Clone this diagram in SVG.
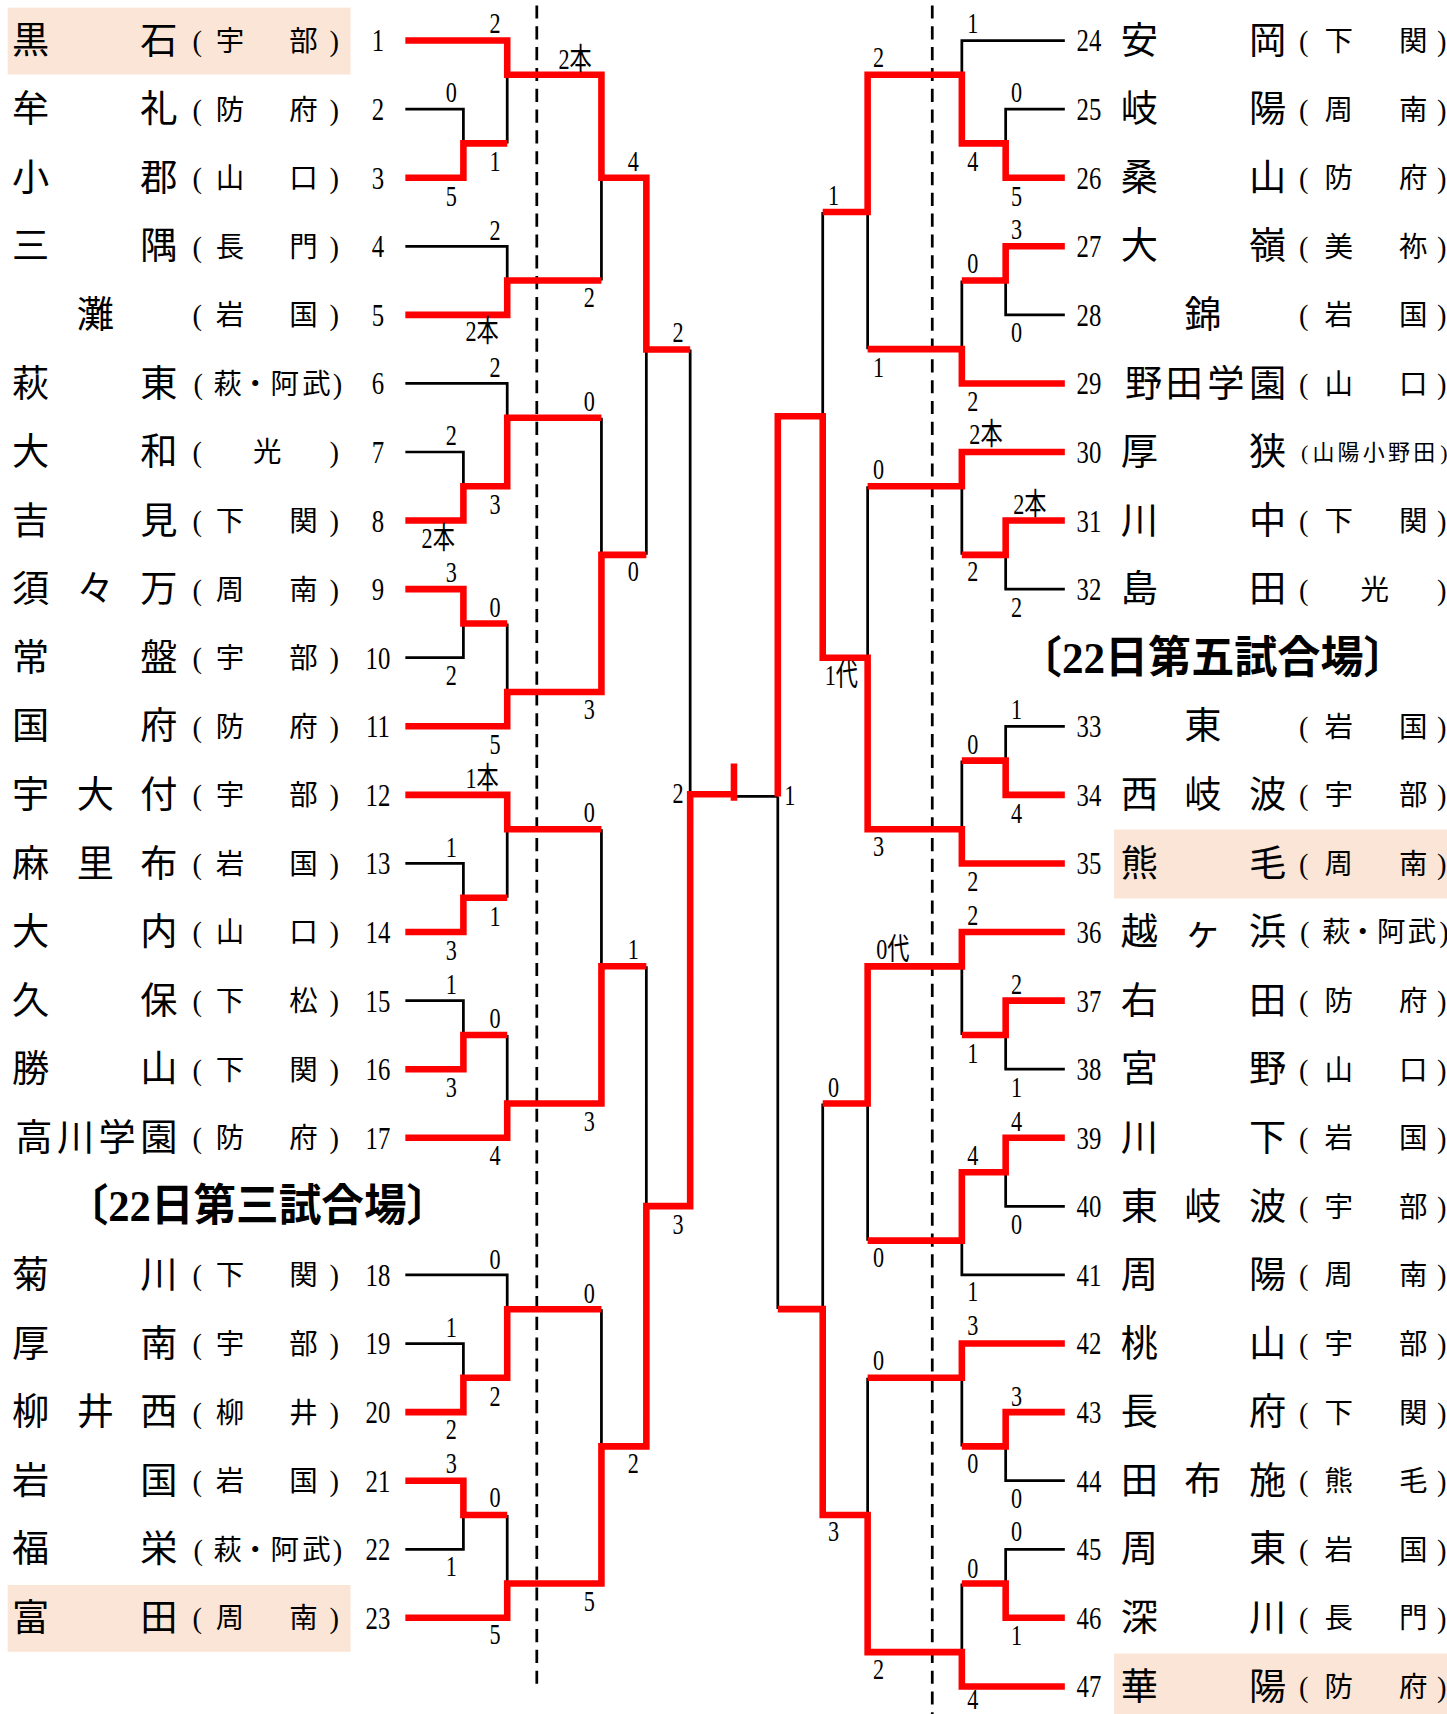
<svg xmlns="http://www.w3.org/2000/svg" width="1447" height="1714" viewBox="0 0 1447 1714">
<style>
text{font-family:"Liberation Serif","Noto Sans CJK JP",serif;fill:#000;text-anchor:middle}
.nm{font-size:34px}
.pf{font-size:26px}
.sm{font-size:20px}
.no{font-size:29px;transform:scaleX(.78);transform-box:fill-box;transform-origin:center}
.s{font-size:27px;transform:scaleX(.75);transform-box:fill-box;transform-origin:center}
.hd{font-size:40px;font-weight:bold}
.r{fill:none;stroke:#ff0000;stroke-width:6}
.k{fill:none;stroke:#000;stroke-width:2.5}
.d{stroke:#000;stroke-width:2.5;stroke-dasharray:12 7}
.bg{fill:#fbe5d6}
</style>
<rect width="1447" height="1714" fill="#fff"/>
<g transform="scale(1.0955)">
<g id="guides">
<line class="d" x1="490" y1="5" x2="490" y2="1540"/>
<line class="d" x1="851" y1="5" x2="851" y2="1570"/>
</g>
<g id="left-teams">
<g id="t1" transform="translate(0,37)"><rect class="bg" x="7" y="-30" width="313" height="61"/><text class="nm" x="28 145" y="12">黒石</text><text class="pf" x="180 210 277 305" y="9.5">(宇部)</text><text class="no" x="345" y="10">1</text></g>
<g id="t2" transform="translate(0,99.6)"><text class="nm" x="28 145" y="12">牟礼</text><text class="pf" x="180 210 277 305" y="9.5">(防府)</text><text class="no" x="345" y="10">2</text></g>
<g id="t3" transform="translate(0,162.2)"><text class="nm" x="28 145" y="12">小郡</text><text class="pf" x="180 210 277 305" y="9.5">(山口)</text><text class="no" x="345" y="10">3</text></g>
<g id="t4" transform="translate(0,224.8)"><text class="nm" x="28 145" y="12">三隅</text><text class="pf" x="180 210 277 305" y="9.5">(長門)</text><text class="no" x="345" y="10">4</text></g>
<g id="t5" transform="translate(0,287.4)"><text class="nm" x="87" y="12">灘</text><text class="pf" x="180 210 277 305" y="9.5">(岩国)</text><text class="no" x="345" y="10">5</text></g>
<g id="t6" transform="translate(0,350)"><text class="nm" x="28 145" y="12">萩東</text><text class="pf" x="181 208 233 260 289 308" y="9.5">(萩・阿武)</text><text class="no" x="345" y="10">6</text></g>
<g id="t7" transform="translate(0,412.6)"><text class="nm" x="28 145" y="12">大和</text><text class="pf" x="180 244 305" y="9.5">(光)</text><text class="no" x="345" y="10">7</text></g>
<g id="t8" transform="translate(0,475.2)"><text class="nm" x="28 145" y="12">吉見</text><text class="pf" x="180 210 277 305" y="9.5">(下関)</text><text class="no" x="345" y="10">8</text></g>
<g id="t9" transform="translate(0,537.8)"><text class="nm" x="28 87 145" y="12">須々万</text><text class="pf" x="180 210 277 305" y="9.5">(周南)</text><text class="no" x="345" y="10">9</text></g>
<g id="t10" transform="translate(0,600.4)"><text class="nm" x="28 145" y="12">常盤</text><text class="pf" x="180 210 277 305" y="9.5">(宇部)</text><text class="no" x="345" y="10">10</text></g>
<g id="t11" transform="translate(0,663)"><text class="nm" x="28 145" y="12">国府</text><text class="pf" x="180 210 277 305" y="9.5">(防府)</text><text class="no" x="345" y="10">11</text></g>
<g id="t12" transform="translate(0,725.6)"><text class="nm" x="28 87 145" y="12">宇大付</text><text class="pf" x="180 210 277 305" y="9.5">(宇部)</text><text class="no" x="345" y="10">12</text></g>
<g id="t13" transform="translate(0,788.2)"><text class="nm" x="28 87 145" y="12">麻里布</text><text class="pf" x="180 210 277 305" y="9.5">(岩国)</text><text class="no" x="345" y="10">13</text></g>
<g id="t14" transform="translate(0,850.8)"><text class="nm" x="28 145" y="12">大内</text><text class="pf" x="180 210 277 305" y="9.5">(山口)</text><text class="no" x="345" y="10">14</text></g>
<g id="t15" transform="translate(0,913.4)"><text class="nm" x="28 145" y="12">久保</text><text class="pf" x="180 210 277 305" y="9.5">(下松)</text><text class="no" x="345" y="10">15</text></g>
<g id="t16" transform="translate(0,976)"><text class="nm" x="28 145" y="12">勝山</text><text class="pf" x="180 210 277 305" y="9.5">(下関)</text><text class="no" x="345" y="10">16</text></g>
<g id="t17" transform="translate(0,1038.6)"><text class="nm" x="31 69 107 145" y="12">高川学園</text><text class="pf" x="180 210 277 305" y="9.5">(防府)</text><text class="no" x="345" y="10">17</text></g>
<g id="t18" transform="translate(0,1163.8)"><text class="nm" x="28 145" y="12">菊川</text><text class="pf" x="180 210 277 305" y="9.5">(下関)</text><text class="no" x="345" y="10">18</text></g>
<g id="t19" transform="translate(0,1226.4)"><text class="nm" x="28 145" y="12">厚南</text><text class="pf" x="180 210 277 305" y="9.5">(宇部)</text><text class="no" x="345" y="10">19</text></g>
<g id="t20" transform="translate(0,1289)"><text class="nm" x="28 87 145" y="12">柳井西</text><text class="pf" x="180 210 277 305" y="9.5">(柳井)</text><text class="no" x="345" y="10">20</text></g>
<g id="t21" transform="translate(0,1351.6)"><text class="nm" x="28 145" y="12">岩国</text><text class="pf" x="180 210 277 305" y="9.5">(岩国)</text><text class="no" x="345" y="10">21</text></g>
<g id="t22" transform="translate(0,1414.2)"><text class="nm" x="28 145" y="12">福栄</text><text class="pf" x="181 208 233 260 289 308" y="9.5">(萩・阿武)</text><text class="no" x="345" y="10">22</text></g>
<g id="t23" transform="translate(0,1476.8)"><rect class="bg" x="7" y="-30" width="313" height="61"/><text class="nm" x="28 145" y="12">富田</text><text class="pf" x="180 210 277 305" y="9.5">(周南)</text><text class="no" x="345" y="10">23</text></g>
</g>
<g id="right-teams">
<g id="t24" transform="translate(0,37)"><text class="no" x="994" y="10">24</text><text class="nm" x="1040 1157" y="12">安岡</text><text class="pf" x="1190 1222 1290 1316" y="9.5">(下関)</text></g>
<g id="t25" transform="translate(0,99.6)"><text class="no" x="994" y="10">25</text><text class="nm" x="1040 1157" y="12">岐陽</text><text class="pf" x="1190 1222 1290 1316" y="9.5">(周南)</text></g>
<g id="t26" transform="translate(0,162.2)"><text class="no" x="994" y="10">26</text><text class="nm" x="1040 1157" y="12">桑山</text><text class="pf" x="1190 1222 1290 1316" y="9.5">(防府)</text></g>
<g id="t27" transform="translate(0,224.8)"><text class="no" x="994" y="10">27</text><text class="nm" x="1040 1157" y="12">大嶺</text><text class="pf" x="1190 1222 1290 1316" y="9.5">(美祢)</text></g>
<g id="t28" transform="translate(0,287.4)"><text class="no" x="994" y="10">28</text><text class="nm" x="1098" y="12">錦</text><text class="pf" x="1190 1222 1290 1316" y="9.5">(岩国)</text></g>
<g id="t29" transform="translate(0,350)"><text class="no" x="994" y="10">29</text><text class="nm" x="1044 1081 1119 1157" y="12">野田学園</text><text class="pf" x="1190 1222 1290 1316" y="9.5">(山口)</text></g>
<g id="t30" transform="translate(0,412.6)"><text class="no" x="994" y="10">30</text><text class="nm" x="1040 1157" y="12">厚狭</text><text class="sm" x="1191 1208 1231 1254 1277 1300 1318" y="7.5">(山陽小野田)</text></g>
<g id="t31" transform="translate(0,475.2)"><text class="no" x="994" y="10">31</text><text class="nm" x="1040 1157" y="12">川中</text><text class="pf" x="1190 1222 1290 1316" y="9.5">(下関)</text></g>
<g id="t32" transform="translate(0,537.8)"><text class="no" x="994" y="10">32</text><text class="nm" x="1040 1157" y="12">島田</text><text class="pf" x="1190 1255 1316" y="9.5">(光)</text></g>
<g id="t33" transform="translate(0,663)"><text class="no" x="994" y="10">33</text><text class="nm" x="1098" y="12">東</text><text class="pf" x="1190 1222 1290 1316" y="9.5">(岩国)</text></g>
<g id="t34" transform="translate(0,725.6)"><text class="no" x="994" y="10">34</text><text class="nm" x="1040 1098 1157" y="12">西岐波</text><text class="pf" x="1190 1222 1290 1316" y="9.5">(宇部)</text></g>
<g id="t35" transform="translate(0,788.2)"><rect class="bg" x="1017" y="-31" width="310" height="63"/><text class="no" x="994" y="10">35</text><text class="nm" x="1040 1157" y="12">熊毛</text><text class="pf" x="1190 1222 1290 1316" y="9.5">(周南)</text></g>
<g id="t36" transform="translate(0,850.8)"><text class="no" x="994" y="10">36</text><text class="nm" x="1040 1098 1157" y="12">越ヶ浜</text><text class="pf" x="1191 1220 1244 1270 1298 1318" y="9.5">(萩・阿武)</text></g>
<g id="t37" transform="translate(0,913.4)"><text class="no" x="994" y="10">37</text><text class="nm" x="1040 1157" y="12">右田</text><text class="pf" x="1190 1222 1290 1316" y="9.5">(防府)</text></g>
<g id="t38" transform="translate(0,976)"><text class="no" x="994" y="10">38</text><text class="nm" x="1040 1157" y="12">宮野</text><text class="pf" x="1190 1222 1290 1316" y="9.5">(山口)</text></g>
<g id="t39" transform="translate(0,1038.6)"><text class="no" x="994" y="10">39</text><text class="nm" x="1040 1157" y="12">川下</text><text class="pf" x="1190 1222 1290 1316" y="9.5">(岩国)</text></g>
<g id="t40" transform="translate(0,1101.2)"><text class="no" x="994" y="10">40</text><text class="nm" x="1040 1098 1157" y="12">東岐波</text><text class="pf" x="1190 1222 1290 1316" y="9.5">(宇部)</text></g>
<g id="t41" transform="translate(0,1163.8)"><text class="no" x="994" y="10">41</text><text class="nm" x="1040 1157" y="12">周陽</text><text class="pf" x="1190 1222 1290 1316" y="9.5">(周南)</text></g>
<g id="t42" transform="translate(0,1226.4)"><text class="no" x="994" y="10">42</text><text class="nm" x="1040 1157" y="12">桃山</text><text class="pf" x="1190 1222 1290 1316" y="9.5">(宇部)</text></g>
<g id="t43" transform="translate(0,1289)"><text class="no" x="994" y="10">43</text><text class="nm" x="1040 1157" y="12">長府</text><text class="pf" x="1190 1222 1290 1316" y="9.5">(下関)</text></g>
<g id="t44" transform="translate(0,1351.6)"><text class="no" x="994" y="10">44</text><text class="nm" x="1040 1098 1157" y="12">田布施</text><text class="pf" x="1190 1222 1290 1316" y="9.5">(熊毛)</text></g>
<g id="t45" transform="translate(0,1414.2)"><text class="no" x="994" y="10">45</text><text class="nm" x="1040 1157" y="12">周東</text><text class="pf" x="1190 1222 1290 1316" y="9.5">(岩国)</text></g>
<g id="t46" transform="translate(0,1476.8)"><text class="no" x="994" y="10">46</text><text class="nm" x="1040 1157" y="12">深川</text><text class="pf" x="1190 1222 1290 1316" y="9.5">(長門)</text></g>
<g id="t47" transform="translate(0,1539.4)"><rect class="bg" x="1017" y="-30" width="310" height="62"/><text class="no" x="994" y="10">47</text><text class="nm" x="1040 1157" y="12">華陽</text><text class="pf" x="1190 1222 1290 1316" y="9.5">(防府)</text></g>
</g>
<g id="headers">
<text class="hd" x="235" y="1115" textLength="350" lengthAdjust="spacingAndGlyphs">〔22日第三試合場〕</text>
<text class="hd" x="1107" y="614" textLength="354" lengthAdjust="spacingAndGlyphs">〔22日第五試合場〕</text>
</g>
<g id="connectors">
<path class="k" d="M370,99.6H423V130.9M463,130.9V68.3M370,224.8H463V256.1M549,256.1V162.2
M370,350H463V381.3M370,412.6H423V443.9M370,600.4H423V569.1M463,569.1V631.7M549,381.3V506.5M590,319V506.5M630,319V725
M370,788.2H423V819.5M463,819.5V757M370,913.4H423V944.7M463,944.7V1007.3M549,757V882M590,882V1101
M370,1163.8H463V1195.1M370,1226.4H423V1257.7M370,1414.2H423V1382.9M463,1382.9V1445.5M549,1195.1V1320.3
M670,727H710
M972,37H878V68.3M972,99.6H918V130.9M972,287.4H918V256.1M878,256.1V318.7M792,318.7V193.5M751,193.5V380
M972,537.8H918V506.5M878,506.5V443.9M972,663H918V694.3M878,694.3V756.9M792,443.9V600.4
M972,976H918V944.7M878,944.7V882.1M972,1101.2H918V1070M972,1163.8H878V1132.5M792,1132.5V1007.3M751,1007.3V1195M710,727V1195
M972,1351.6H918V1320.3M878,1320.3V1257.7M972,1414.2H918V1445.5M878,1445.5V1508.1M792,1257.7V1382.9"/>
<path class="r" d="M370,37H463V68.3H549V162.2H590V319H630
M370,162.2H423V130.9H463
M370,287.4H463V256.1H549
M370,475.2H423V443.9H463V381.3H549
M370,537.8H423V569.1H463
M370,663H463V631.7H549V506.5H590
M370,725.6H463V757H549
M370,850.8H423V819.5H463
M370,976H423V944.7H463
M370,1038.6H463V1007.3H549V882H590
M370,1289H423V1257.7H463V1195.1H549
M370,1351.6H423V1382.9H463
M370,1476.8H463V1445.5H549V1320.3H590V1101H630V725H670
M670,697V731
M972,162.2H918V130.9H878V68.3H792V193.5H751
M972,224.8H918V256.1H878
M972,350H878V318.7H792
M972,412.6H878V443.9H792
M972,475.2H918V506.5H878
M972,725.6H918V694.3H878
M972,788.2H878V756.9H792V600.4H751V380H710V727
M972,850.8H878V882.1H792V1007.3H751
M972,913.4H918V944.7H878
M972,1038.6H918V1070H878V1132.5H792
M972,1226.4H878V1257.7H792
M972,1289H918V1320.3H878
M972,1476.8H918V1445.5H878
M972,1539.4H878V1508.1H792V1382.9H751V1195H710"/>
</g>
<g id="scores">
<text class="s" x="452" y="30">2</text><text class="s" x="412" y="93">0</text><text class="s" x="452" y="156">1</text><text class="s" x="412" y="188">5</text><text class="s" x="525" y="63">2本</text><text class="s" x="452" y="219">2</text><text class="s" x="440" y="311">2本</text><text class="s" x="538" y="280">2</text><text class="s" x="578" y="156">4</text><text class="s" x="619" y="312">2</text>
<text class="s" x="452" y="344">2</text><text class="s" x="538" y="375">0</text><text class="s" x="412" y="406">2</text><text class="s" x="452" y="469">3</text><text class="s" x="400" y="500">2本</text><text class="s" x="412" y="531">3</text><text class="s" x="452" y="563">0</text><text class="s" x="578" y="530">0</text><text class="s" x="412" y="625">2</text><text class="s" x="538" y="656">3</text><text class="s" x="452" y="688">5</text>
<text class="s" x="440" y="719">1本</text><text class="s" x="619" y="733">2</text><text class="s" x="538" y="750">0</text><text class="s" x="412" y="782">1</text><text class="s" x="452" y="845">1</text><text class="s" x="578" y="875">1</text><text class="s" x="412" y="876">3</text><text class="s" x="412" y="907">1</text><text class="s" x="452" y="938">0</text><text class="s" x="412" y="1001">3</text><text class="s" x="538" y="1032">3</text><text class="s" x="452" y="1063">4</text><text class="s" x="619" y="1126">3</text>
<text class="s" x="452" y="1158">0</text><text class="s" x="538" y="1189">0</text><text class="s" x="412" y="1220">1</text><text class="s" x="452" y="1283">2</text><text class="s" x="412" y="1314">2</text><text class="s" x="578" y="1345">2</text><text class="s" x="412" y="1345">3</text><text class="s" x="452" y="1376">0</text><text class="s" x="412" y="1439">1</text><text class="s" x="538" y="1471">5</text><text class="s" x="452" y="1501">5</text>
<text class="s" x="721" y="735">1</text>
<text class="s" x="888" y="30">1</text><text class="s" x="802" y="61">2</text><text class="s" x="928" y="93">0</text><text class="s" x="888" y="156">4</text><text class="s" x="761" y="187">1</text><text class="s" x="928" y="188">5</text><text class="s" x="928" y="218">3</text><text class="s" x="888" y="249">0</text><text class="s" x="928" y="312">0</text><text class="s" x="802" y="344">1</text><text class="s" x="888" y="375">2</text>
<text class="s" x="900" y="405">2本</text><text class="s" x="802" y="437">0</text><text class="s" x="940" y="469">2本</text><text class="s" x="888" y="530">2</text><text class="s" x="928" y="563">2</text><text class="s" x="768" y="625">1代</text><text class="s" x="928" y="656">1</text><text class="s" x="888" y="688">0</text><text class="s" x="928" y="751">4</text><text class="s" x="802" y="781">3</text><text class="s" x="888" y="813">2</text>
<text class="s" x="888" y="844">2</text><text class="s" x="815" y="875">0代</text><text class="s" x="928" y="907">2</text><text class="s" x="888" y="970">1</text><text class="s" x="928" y="1001">1</text><text class="s" x="761" y="1001">0</text><text class="s" x="928" y="1032">4</text><text class="s" x="888" y="1063">4</text><text class="s" x="928" y="1126">0</text><text class="s" x="802" y="1157">0</text><text class="s" x="888" y="1188">1</text>
<text class="s" x="888" y="1219">3</text><text class="s" x="802" y="1251">0</text><text class="s" x="928" y="1283">3</text><text class="s" x="888" y="1345">0</text><text class="s" x="928" y="1377">0</text><text class="s" x="761" y="1407">3</text><text class="s" x="928" y="1407">0</text><text class="s" x="888" y="1440">0</text><text class="s" x="928" y="1502">1</text><text class="s" x="802" y="1533">2</text><text class="s" x="888" y="1560">4</text>
</g>
</g>
</svg>
